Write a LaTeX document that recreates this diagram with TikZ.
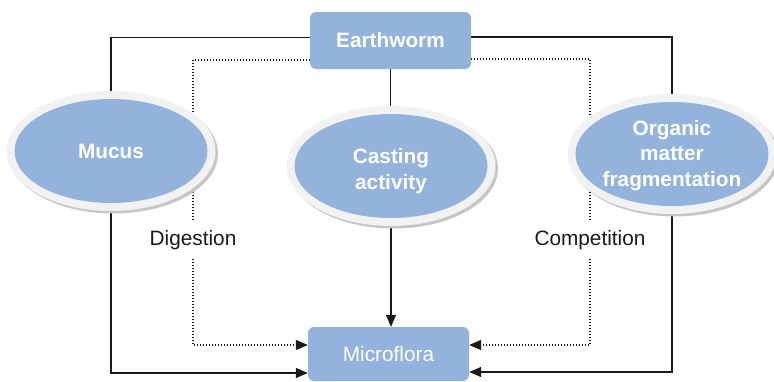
\documentclass[tikz,border=0pt]{standalone}
\usepackage{fontspec}
\setmainfont{Liberation Sans}
\usetikzlibrary{arrows.meta,shapes.geometric}
\pgfdeclarelayer{links}
\pgfsetlayers{links,main}
\definecolor{boxblue}{HTML}{93B3DC}
\definecolor{rimgrey}{HTML}{F2F2F2}
\definecolor{shadegrey}{HTML}{C6C6C6}
\definecolor{ink}{HTML}{1A1A1A}
\tikzset{
  mainfont/.style={font=\fontsize{20.8}{25.5}\selectfont},
  boldfont/.style={font=\fontsize{20.8}{25.5}\selectfont\bfseries},
  boxnode/.style={mainfont, rectangle, rounded corners=6pt, fill=boxblue,
    text=white, inner sep=0pt, minimum width=161pt},
  rim/.style={ellipse, fill=rimgrey, inner sep=0pt,
    minimum width=209pt, minimum height=120pt},
  rimshade/.style={ellipse, fill=shadegrey, inner sep=0pt,
    minimum width=209pt, minimum height=120pt},
  blob/.style={ellipse, fill=boxblue, inner sep=0pt,
    minimum width=193pt, minimum height=104pt},
  blobtext/.style={boldfont, text=white, inner sep=0pt, align=center},
  labelnode/.style={mainfont, text=ink, inner sep=0pt, minimum height=38pt},
  link/.style={draw=ink, line width=1.3pt},
  dotlink/.style={draw=ink, line width=1.1pt, dash pattern=on 1.1pt off 1.9pt},
  tip/.style={-{Triangle[length=12pt,width=10pt]}},
}
\begin{document}
\begin{tikzpicture}[x=1pt,y=-1pt]
  \useasboundingbox (0,0) rectangle (774,381);

  % boxes at top and bottom
  \node[boxnode, boldfont, minimum height=57pt] (earth) at (390.5,40.5) {Earthworm};
  \node[boxnode, minimum height=54pt] (micro) at (388.5,354) {Microflora};

  % ellipses: grey shadow, light rim, blue body, caption
  \node[rimshade] (mucusshade) at (113.5,153.5) {};
  \node[rim] (mucusrim) at (111,151) {};
  \node[blob] (mucus) at (111,151) {};
  \node[blobtext] (mucustext) at (111,151) {Mucus};

  \node[rimshade] (castshade) at (393.5,168.5) {};
  \node[rim] (castrim) at (391,166) {};
  \node[blob] (cast) at (391,166) {};
  \node[blobtext] (casttext) at (391,171) {Casting\\activity};

  \node[rimshade] (orgshade) at (674.5,156.5) {};
  \node[rim] (orgrim) at (672,154) {};
  \node[blob] (org) at (672,154) {};
  \node[blobtext] (orgtext) at (672,155.5) {Organic\\matter\\fragmentation};

  % labels on the dotted paths
  \node[labelnode] (digest) at (193,240) {Digestion};
  \node[labelnode] (compete) at (590,240) {Competition};

  \begin{pgfonlayer}{links}
    % links from the earthworm
    \draw[link] ([yshift=3pt]earth.west) -| (mucusrim.north);
    \draw[link] ([yshift=3.5pt]earth.east) -| (orgrim.north);
    \draw[link] (earth.south) -- (earth.south |- castrim.north);
    \draw[dotlink] ([yshift=-19.5pt]earth.west) -| (digest.north);
    \draw[dotlink] ([yshift=-18.5pt]earth.east) -| (compete.north);

    % links into the microflora
    \draw[link, tip] (mucusrim.south) |- ([yshift=-19pt]micro.west);
    \draw[link, tip] (orgrim.south) |- ([yshift=-18pt]micro.east);
    \draw[link, tip] (castrim.south) -- (castrim.south |- micro.north);
    \draw[dotlink, tip] (digest.south) |- ([yshift=9pt]micro.west);
    \draw[dotlink, tip] (compete.south) |- ([yshift=9pt]micro.east);
  \end{pgfonlayer}
\end{tikzpicture}
\end{document}
